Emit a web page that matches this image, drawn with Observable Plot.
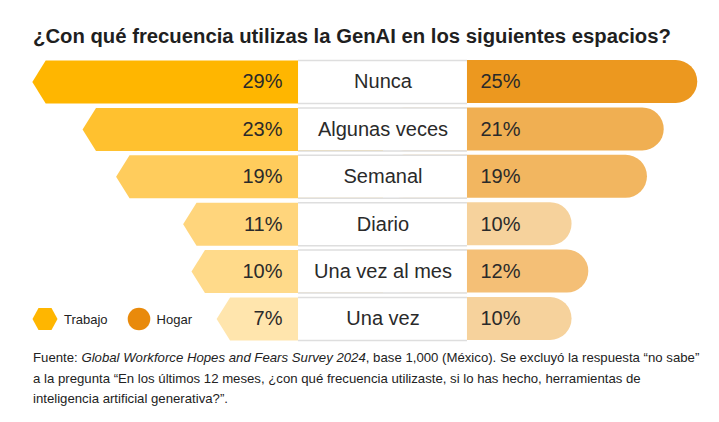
<!DOCTYPE html>
<html><head><meta charset="utf-8">
<script src="https://cdn.jsdelivr.net/npm/d3@7"></script>
<script src="https://cdn.jsdelivr.net/npm/@observablehq/plot@0.6"></script>
<style>
html,body{margin:0;padding:0;background:#fff;}
body{width:719px;height:422px;position:relative;overflow:hidden;font-family:"Liberation Sans",Arial,sans-serif;color:#222;}
#title{position:absolute;left:33px;top:24px;font-size:20.3px;font-weight:bold;line-height:24px;white-space:nowrap;color:#1f1f1f;}
#chart{position:absolute;left:0;top:55px;}
#legend{position:absolute;left:32px;top:307px;font-size:13px;display:flex;align-items:center;}
#legend span{display:inline-flex;align-items:center;margin-right:19px;}
#legend svg{margin-right:6px;}
#caption{position:absolute;left:33px;top:348px;font-size:13.2px;line-height:20.5px;white-space:nowrap;color:#222;}
</style></head>
<body>
<div id="title">¿Con qué frecuencia utilizas la GenAI en los siguientes espacios?</div>
<div id="chart"></div>
<div id="legend"></div>
<div id="caption"></div>
<script>
// data
const categorias = ["Nunca", "Algunas veces", "Semanal", "Diario", "Una vez al mes", "Una vez"];
const trabajo = [29, 23, 19, 11, 10, 7];
const hogar = [25, 21, 19, 10, 12, 10];
const series = ["Trabajo", "Hogar"];

// styles
const coloresTrabajo = ["#FFB600", "#FFC12F", "#FFCC5C", "#FFD57C", "#FFDA8A", "#FFE5AD"];
const coloresHogar = ["#EC981F", "#F0AF52", "#F2B660", "#F6D29C", "#F4BF76", "#F6D29C"];
const colorLeyenda = ["#FFB600", "#E98A0B"];

const rows = categorias.map((c, i) => ({i, c, t: trabajo[i], h: hogar[i]}));

// layout constants (in x-scale units of percent)
const CL = 12.85, CR = 12.56, H = 10.08, TIP = 1.6, HB = 0.4536;

const leftShapes = rows.map(r => {
  const tip = -(CL + r.t);
  const pts = [
    {x: 0, y: r.i - HB}, {x: tip + TIP, y: r.i - HB}, {x: tip, y: r.i},
    {x: tip + TIP, y: r.i + HB}, {x: 0, y: r.i + HB}
  ];
  return Plot.line(pts, {x: "x", y: "y", fill: coloresTrabajo[r.i], stroke: "none", curve: "linear"});
});

const chart = Plot.plot({
  width: 719, height: 290,
  margin: 0,
  x: {domain: [-45.644, 40.155], range: [0, 719], axis: null},
  y: {domain: [-0.559, 5.559], range: [0, 290], axis: null},
  color: {type: "identity"},
  style: {fontFamily: "'Liberation Sans', Arial, sans-serif", background: "white"},
  marks: [
    ...leftShapes,
    Plot.rect(rows, {x1: 0, x2: d => CR + d.h, y1: d => d.i - HB, y2: d => d.i + HB, fill: d => coloresHogar[d.i], rx: 21.5}),
    Plot.rect(rows, {x1: -H, x2: H, y1: d => d.i - HB, y2: d => d.i + HB, fill: "white"}),
    Plot.ruleY(rows, {y: d => d.i - HB, x1: -H, x2: H, stroke: "#dedede", strokeWidth: 1.5}),
    Plot.ruleY(rows, {y: d => d.i + HB, x1: -H, x2: H, stroke: "#dedede", strokeWidth: 1.5}),
    Plot.text(rows, {x: -11.99, y: "i", text: d => d.t + "%", textAnchor: "end", fontSize: 20, fill: "#2a2a2a"}),
    Plot.text(rows, {x: 11.63, y: "i", text: d => d.h + "%", textAnchor: "start", fontSize: 20, fill: "#2a2a2a"}),
    Plot.text(rows, {x: 0, y: "i", text: "c", textAnchor: "middle", fontSize: 20, fill: "#2a2a2a"})
  ]
});
document.getElementById("chart").appendChild(chart);

// legend
const hex = '<svg width="26" height="24" viewBox="-13 -12 26 24"><polygon points="-12.5,0 -6.5,-11 6.5,-11 12.5,0 6.5,11 -6.5,11" fill="' + colorLeyenda[0] + '"/></svg>';
const circ = '<svg width="24" height="24" viewBox="-12 -12 24 24"><circle r="11.3" fill="' + colorLeyenda[1] + '"/></svg>';
document.getElementById("legend").innerHTML =
  '<span>' + hex + series[0] + '</span><span>' + circ + series[1] + '</span>';

document.getElementById("caption").innerHTML =
  'Fuente: <i>Global Workforce Hopes and Fears Survey 2024</i>, base 1,000 (México). Se excluyó la respuesta “no sabe”<br>' +
  'a la pregunta “En los últimos 12 meses, ¿con qué frecuencia utilizaste, si lo has hecho, herramientas de<br>' +
  'inteligencia artificial generativa?”.';
</script>
</body></html>
